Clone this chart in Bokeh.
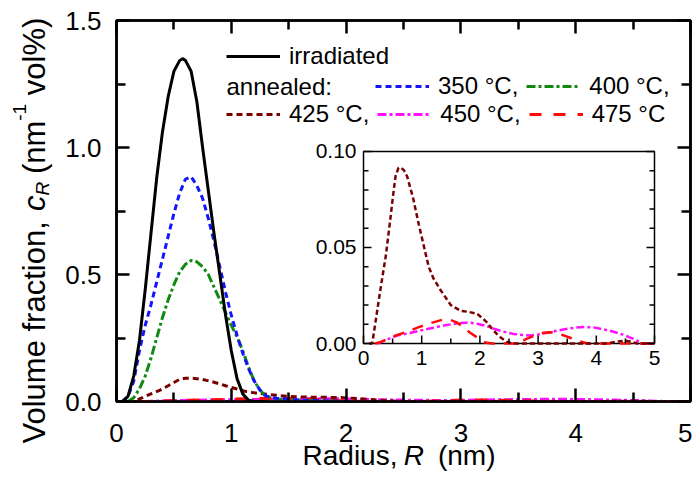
import math
from bokeh.plotting import figure
from bokeh.layouts import row, column
from bokeh.models import (Range1d, LinearAxis, FixedTicker, Label, Legend, LegendItem,
                          CustomJSTickFormatter, PrintfTickFormatter)
from bokeh.core.properties import value
from bokeh.embed import file_html
from bokeh.resources import INLINE

# ---------------- data ----------------
x_ticks = [0, 1, 2, 3, 4, 5]
x_minor = [0.5, 1.5, 2.5, 3.5, 4.5]
y_ticks = [0.0, 0.5, 1.0, 1.5]
y_minor = [0.25, 0.75, 1.25]
x_range = (0, 5)
y_range = (0, 1.5)

inset_x_ticks = [0, 1, 2, 3, 4, 5]
inset_x_labels = ["0", "1", "2", "3", "4", "5"]
inset_x_minor = [0.5, 1.5, 2.5, 3.5, 4.5]
inset_y_ticks = [0.0, 0.05, 0.10]
inset_y_labels = ["0.00", "0.05", "0.10"]
inset_y_minor = [0.01, 0.02, 0.03, 0.04, 0.06, 0.07, 0.08, 0.09]
inset_x_range = (0, 5)
inset_y_range = (0, 0.1)

r_irr = [0.0, 0.05, 0.1, 0.15, 0.2, 0.25, 0.3, 0.35, 0.4, 0.45, 0.5, 0.55, 0.575, 0.6, 0.65,
         0.7, 0.75, 0.8, 0.85, 0.9, 0.95, 1.0, 1.05, 1.1, 1.15, 1.2, 1.3]
c_irr = [0.0, 0.0, 0.02, 0.1, 0.24, 0.44, 0.66, 0.88, 1.06, 1.2, 1.3, 1.342, 1.35, 1.343, 1.3,
         1.18, 1.0, 0.83, 0.66, 0.5, 0.34, 0.2, 0.09, 0.03, 0.005, 0.0, 0.0]

r_350 = [0.05, 0.1, 0.15, 0.2, 0.25, 0.3, 0.35, 0.4, 0.45, 0.5, 0.55, 0.6, 0.65, 0.7, 0.75,
         0.8, 0.85, 0.9, 0.95, 1.0, 1.05, 1.1, 1.15, 1.2, 1.25, 1.3, 1.4, 1.6, 2.0]
c_350 = [0.0, 0.02, 0.08, 0.2, 0.3, 0.38, 0.47, 0.56, 0.65, 0.74, 0.82, 0.875, 0.885, 0.85, 0.8,
         0.72, 0.63, 0.53, 0.43, 0.34, 0.26, 0.19, 0.13, 0.08, 0.045, 0.022, 0.012, 0.006, 0.0]

r_400 = [0.1, 0.15, 0.2, 0.25, 0.3, 0.35, 0.4, 0.45, 0.5, 0.55, 0.6, 0.65, 0.7, 0.75, 0.8,
         0.85, 0.9, 0.95, 1.0, 1.05, 1.1, 1.15, 1.2, 1.25, 1.3, 1.4, 1.6, 2.0]
c_400 = [0.0, 0.015, 0.05, 0.1, 0.17, 0.25, 0.33, 0.4, 0.46, 0.51, 0.54, 0.555, 0.55, 0.53, 0.5,
         0.45, 0.4, 0.35, 0.3, 0.255, 0.2, 0.135, 0.08, 0.045, 0.02, 0.01, 0.005, 0.0]

r_425 = [0.1, 0.15, 0.2, 0.3, 0.38, 0.45, 0.5, 0.55, 0.6, 0.65, 0.7, 0.75, 0.85, 0.95, 1.05,
         1.12, 1.2, 1.32, 1.5, 1.67, 1.8, 1.95, 2.05, 2.12, 2.2, 2.29, 2.35, 2.46, 2.55, 3.0,
         3.5, 4.0, 4.2, 4.35, 4.5, 4.6, 4.7, 5.0]
c_425 = [0.0, 0.0, 0.01, 0.03, 0.045, 0.062, 0.075, 0.087, 0.0915, 0.0915, 0.09, 0.087, 0.076,
         0.062, 0.049, 0.040, 0.034, 0.028, 0.020, 0.017, 0.0165, 0.0155, 0.013, 0.011, 0.008,
         0.005, 0.0033, 0.001, 0.0, 0.0, 0.0, 0.0, 0.0, 0.001, 0.0015, 0.001, 0.0, 0.0]

r_450 = [0.24, 0.4, 0.58, 0.8, 0.98, 1.2, 1.38, 1.55, 1.72, 1.85, 1.95, 2.1, 2.24, 2.4, 2.58,
         2.75, 2.87, 3.0, 3.21, 3.35, 3.5, 3.65, 3.79, 3.95, 4.07, 4.25, 4.42, 4.55, 4.64, 4.79, 5.0]
c_450 = [0.0, 0.002, 0.0042, 0.0055, 0.0068, 0.0082, 0.0094, 0.0102, 0.0108, 0.0108, 0.0103,
         0.0092, 0.0077, 0.0062, 0.005, 0.0044, 0.0042, 0.0047, 0.0059, 0.0068, 0.0077, 0.0083,
         0.0086, 0.0084, 0.0077, 0.0065, 0.005, 0.0035, 0.0024, 0.0, 0.0]

r_475 = [0.2, 0.3, 0.52, 0.75, 0.95, 1.15, 1.35, 1.5, 1.6, 1.72, 1.82, 1.95, 2.05, 2.2, 2.6,
         2.7, 2.8, 2.98, 3.1, 3.21, 3.32, 3.44, 3.55, 3.67, 3.85, 5.0]
c_475 = [0.0, 0.0008, 0.0038, 0.0062, 0.0085, 0.0106, 0.0123, 0.0122, 0.011, 0.0085, 0.0059,
         0.0032, 0.0007, 0.0, 0.0, 0.0008, 0.0024, 0.0047, 0.0056, 0.0059, 0.0054, 0.0042,
         0.003, 0.0016, 0.0, 0.0]

# ---------------- styles ----------------
FONT = "Liberation Sans"
st_irr = dict(line_color="black", line_width=3)
st_350 = dict(line_color="#1414ff", line_width=3, line_dash="6 4")
st_400 = dict(line_color="#108a10", line_width=3, line_dash="9 3 3 3")
st_425 = dict(line_color="#7a0000", line_width=3, line_dash="6 4")
st_450 = dict(line_color="#ff10ff", line_width=3, line_dash="9 3 3 3")
st_475 = dict(line_color="#ff0a0a", line_width=3, line_dash="12 12")

YSTRIP_W = 56
TOTAL_H = 480
MAIN_LEFT, MAIN_TOP, MAIN_BOTTOM, MAIN_RIGHT = 60, 20, 58, 2
FRAME_W, FRAME_H = 574, 381
OVERLAP = 20

p = figure(frame_width=FRAME_W, frame_height=FRAME_H,
           x_range=Range1d(*x_range), y_range=Range1d(*y_range),
           output_backend="svg", toolbar_location=None,
           min_border_left=MAIN_LEFT, min_border_right=MAIN_RIGHT,
           min_border_top=MAIN_TOP, min_border_bottom=MAIN_BOTTOM)
p.xgrid.visible = False
p.ygrid.visible = False
p.outline_line_color = "black"
p.outline_line_width = 2.5


def style_axis(ax, show_labels=True):
    ax.axis_line_width = 2.5
    ax.axis_line_color = "black"
    ax.major_tick_in = 13
    ax.major_tick_out = 0
    ax.minor_tick_in = 9
    ax.minor_tick_out = 0
    ax.major_tick_line_width = 2.5
    ax.minor_tick_line_width = 2.5
    ax.major_tick_line_color = "black"
    ax.minor_tick_line_color = "black"
    ax.major_label_text_font = FONT
    ax.major_label_text_color = "black"
    if show_labels:
        ax.major_label_text_font_size = "26px"
    else:
        ax.major_label_text_font_size = "1px"
        ax.major_label_standoff = 0
        ax.formatter = CustomJSTickFormatter(code="return ''")


xax = p.xaxis[0]
xax.ticker = FixedTicker(ticks=x_ticks, minor_ticks=x_minor)
style_axis(xax)
xax.major_label_standoff = 22
yax = p.yaxis[0]
yax.ticker = FixedTicker(ticks=y_ticks, minor_ticks=y_minor)
yax.formatter = PrintfTickFormatter(format="%.1f")
style_axis(yax)
yax.major_label_standoff = 15

rax = LinearAxis(ticker=FixedTicker(ticks=y_ticks, minor_ticks=y_minor))
style_axis(rax, False)
p.add_layout(rax, "right")
tax = LinearAxis(ticker=FixedTicker(ticks=x_ticks, minor_ticks=x_minor))
style_axis(tax, False)
p.add_layout(tax, "above")

# ---------------- main curves ----------------
g_450 = p.line(r_450, c_450, **st_450)
g_475 = p.line(r_475, c_475, **st_475)
g_425 = p.line(r_425, c_425, **st_425)
g_400 = p.line(r_400, c_400, **st_400)
g_350 = p.line(r_350, c_350, **st_350)
g_irr = p.line(r_irr, c_irr, **st_irr)

# ---------------- inset (sub-coordinate system) ----------------
ins = p.subplot(x_source=Range1d(*inset_x_range), y_source=Range1d(*inset_y_range),
                x_target=Range1d(2.1516, 4.6864), y_target=Range1d(0.2283, 0.9843))
ins.quad(left=[inset_x_range[0]], right=[inset_x_range[1]],
         bottom=[inset_y_range[0]], top=[inset_y_range[1]],
         fill_color="white", line_color="black", line_width=1.5)
ins.line(r_450, c_450, line_color=st_450["line_color"], line_width=2.5, line_dash="8 3 3 3")
ins.line(r_475, c_475, line_color=st_475["line_color"], line_width=2.5, line_dash="11 9")
ins.line(r_425, c_425, line_color=st_425["line_color"], line_width=2.5, line_dash="5 3")

tick_style = dict(line_color="black", line_width=1.5, length_units="screen")
ins.ray(x=[inset_x_range[0]] * len(inset_y_ticks), y=inset_y_ticks, length=8, angle=0, **tick_style)
ins.ray(x=[inset_x_range[0]] * len(inset_y_minor), y=inset_y_minor, length=5, angle=0, **tick_style)
ins.ray(x=[inset_x_range[1]] * len(inset_y_ticks), y=inset_y_ticks, length=8, angle=math.pi, **tick_style)
ins.ray(x=[inset_x_range[1]] * len(inset_y_minor), y=inset_y_minor, length=5, angle=math.pi, **tick_style)
ins.ray(x=inset_x_ticks, y=[inset_y_range[0]] * len(inset_x_ticks), length=8, angle=math.pi / 2, **tick_style)
ins.ray(x=inset_x_minor, y=[inset_y_range[0]] * len(inset_x_minor), length=5, angle=math.pi / 2, **tick_style)

ins.text(x=inset_x_ticks, y=[inset_y_range[0]] * len(inset_x_ticks), text=inset_x_labels,
         text_align="center", text_baseline="top", y_offset=7,
         text_font=value(FONT), text_font_size=value("21px"), text_color="black")
ins.text(x=[inset_x_range[0]] * len(inset_y_ticks), y=inset_y_ticks, text=inset_y_labels,
         text_align="right", text_baseline="middle", x_offset=-7,
         text_font=value(FONT), text_font_size=value("21px"), text_color="black")

# ---------------- legends ----------------
def make_legend(items, loc):
    lg = Legend(items=items, location=loc, orientation="horizontal",
                padding=0, margin=0, spacing=8, label_standoff=9,
                glyph_width=54, glyph_height=24, label_height=24,
                border_line_alpha=0, background_fill_alpha=0,
                label_text_font=FONT, label_text_font_size="24px", label_text_color="black")
    p.add_layout(lg)
    return lg

make_legend([LegendItem(label="irradiated", renderers=[g_irr])], (110, 331))
make_legend([LegendItem(label="350 °C,", renderers=[g_350]),
             LegendItem(label="400 °C,", renderers=[g_400])], (259, 301))
make_legend([LegendItem(label="425 °C,", renderers=[g_425]),
             LegendItem(label="450 °C,", renderers=[g_450]),
             LegendItem(label="475 °C", renderers=[g_475])], (110, 273))
p.add_layout(Label(x=110, y=315, x_units="screen", y_units="screen", text="annealed:",
                   text_baseline="middle", text_font=FONT, text_font_size="24px",
                   text_color="black"))


def em(s):
    w = {"V": 667, "o": 556, "l": 222, "u": 556, "m": 833, "e": 556, " ": 278, "f": 278,
         "r": 333, "a": 556, "c": 500, "t": 278, "i": 222, "n": 556, ",": 278, "R": 667,
         "d": 556, "s": 500, "(": 333, ")": 333, "-": 333, "1": 556, "v": 500, "%": 889}
    return sum(w[ch] for ch in s) / 1000.0


def blank_fig(w, h, **kw):
    f = figure(width=w, height=h, x_range=Range1d(0, 1), y_range=Range1d(0, 1),
               x_axis_type=None, y_axis_type=None, output_backend="svg",
               toolbar_location=None, **kw)
    f.outline_line_color = None
    f.background_fill_alpha = 0
    f.border_fill_alpha = 0
    return f

# ---------------- y title strip (reads upward) ----------------
yfig = blank_fig(YSTRIP_W, TOTAL_H, min_border=0)
FY, FS = 31, 19
yx = 34
yy = TOTAL_H - 443
pieces = [("Volume fraction,", FY, "normal", 0, em("Volume fraction, ")),
          ("c", FY, "italic", 0, em("c")),
          ("R", FS, "italic", 8, em("R")),
          ("(nm", FY, "normal", 0, em("(nm")),
          ("-1", FS, "normal", -15, em("-1")),
          ("vol%)", FY, "normal", 0, em("vol%)"))]
for txt, fs, sty, dx, w in pieces:
    if txt in ("(nm", "vol%)"):
        yy += em(" ") * FY
    yfig.add_layout(Label(x=yx + dx, y=yy, x_units="screen", y_units="screen", text=txt,
                          angle=math.pi / 2, text_align="left", text_baseline="alphabetic",
                          text_font=FONT, text_font_size=f"{fs}px", text_font_style=sty,
                          text_color="black"))
    yy += w * fs

# ---------------- x title strip (slightly overlapping, transparent) ----------------
MAIN_H = MAIN_TOP + FRAME_H + MAIN_BOTTOM
XSTRIP_H = TOTAL_H - MAIN_H + OVERLAP
XSTRIP_W = MAIN_LEFT + FRAME_W + MAIN_RIGHT
xfig = blank_fig(XSTRIP_W, XSTRIP_H, min_border_left=MAIN_LEFT, min_border_right=MAIN_RIGHT,
                 min_border_top=0, min_border_bottom=0)
xfig.margin = (-OVERLAP, 0, 0, 0)
FX = 28
xx = (398.5 - YSTRIP_W - MAIN_LEFT) - (em("Radius, ") + em("R") + em("  (nm)")) * FX / 2
xy = TOTAL_H - 470
p_x = [("Radius,", "normal", em("Radius, ")), ("R", "italic", em("R") + em("  ")),
       ("(nm)", "normal", em("(nm)"))]
for txt, sty, w in p_x:
    xfig.add_layout(Label(x=xx, y=xy, x_units="screen", y_units="screen", text=txt,
                          text_font=FONT, text_font_size=f"{FX}px", text_font_style=sty,
                          text_color="black"))
    xx += w * FX

layout = row(yfig, column(p, xfig))
open("out.html", "w").write(file_html(layout, INLINE))
